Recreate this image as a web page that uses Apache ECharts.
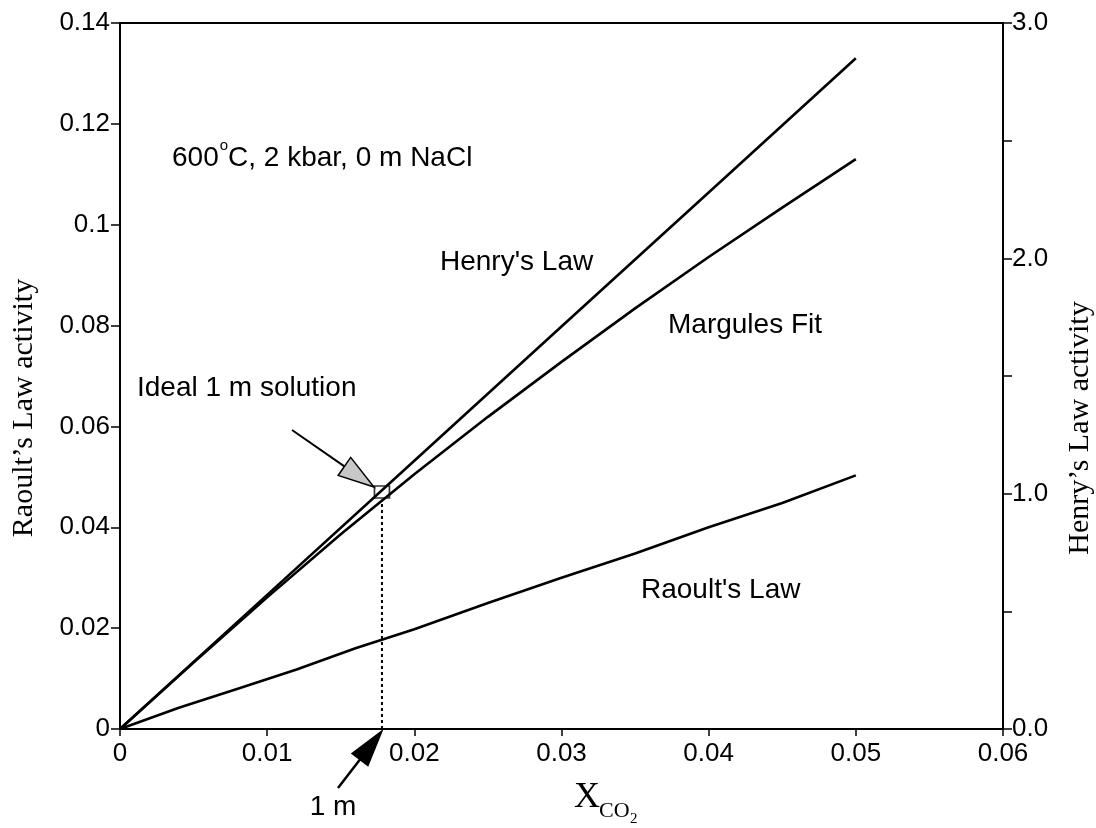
<!DOCTYPE html>
<html><head><meta charset="utf-8">
<script src="https://cdn.jsdelivr.net/npm/echarts@6/dist/echarts.min.js"></script>
<style>html,body{margin:0;padding:0;background:#fff}#c{width:1096px;height:828px}</style>
</head><body><div id="c"></div>
<script>
// ---- data ----
const xTicks = [0, 0.01, 0.02, 0.03, 0.04, 0.05, 0.06];
const henryX = [0, 0.01, 0.02, 0.03, 0.04, 0.05];
const henryY = [0, 0.0266, 0.0532, 0.0798, 0.1064, 0.1330];
const margulesX = [0, 0.005, 0.01, 0.015, 0.02, 0.025, 0.03, 0.035, 0.04, 0.045, 0.05];
const margulesY = [0, 0.0132, 0.0261, 0.0386, 0.0505, 0.0619, 0.0728, 0.0834, 0.0936, 0.1034, 0.1130];
const raoultX = [0, 0.004, 0.008, 0.012, 0.016, 0.02, 0.025, 0.03, 0.035, 0.04, 0.045, 0.05];
const raoultY = [0, 0.0042, 0.0080, 0.0118, 0.0160, 0.0198, 0.0250, 0.0300, 0.0348, 0.0400, 0.0448, 0.0503];
const idealPoint = [0.0178, 0.0470];
const dottedX = [0.0178, 0.0178];
const dottedY = [0, 0.0452];
const leftRange = [0, 0.14];
const rightRange = [0, 3.0];

const zip = (a, b) => a.map((v, i) => [v, b[i]]);
const SANS = '"Liberation Sans", Arial, Helvetica, sans-serif';
const SERIF = '"Liberation Serif", "Times New Roman", serif';
const chart = echarts.init(document.getElementById('c'), null, {renderer: 'canvas'});
const lineStyle = {color: '#000', width: 2.6};
const TICKFONT = 26;

const option = {
  animation: false,
  backgroundColor: '#fff',
  grid: {left: 120, right: 93, top: 23, bottom: 99, show: true, borderColor: '#000', borderWidth: 2, backgroundColor: 'transparent'},
  xAxis: {
    type: 'value', min: 0, max: 0.06, interval: 0.01,
    axisLine: {show: true, lineStyle: {color: '#000', width: 2}},
    axisTick: {show: true, length: 7, lineStyle: {color: '#000', width: 1.5}},
    axisLabel: {color: '#000', fontFamily: SANS, fontSize: TICKFONT, margin: 12,
      formatter: v => v === 0 ? '0' : v.toFixed(2)},
    splitLine: {show: false}
  },
  yAxis: [{
    type: 'value', min: leftRange[0], max: leftRange[1], interval: 0.02,
    axisLine: {show: true, lineStyle: {color: '#000', width: 2}},
    axisTick: {show: true, length: 9, lineStyle: {color: '#000', width: 1.5}},
    axisLabel: {color: '#000', fontFamily: SANS, fontSize: TICKFONT, margin: 10,
      formatter: v => v === 0 ? '0' : String(parseFloat(v.toFixed(2)))},
    splitLine: {show: false}
  }, {
    type: 'value', position: 'right', min: rightRange[0], max: rightRange[1], interval: 0.5,
    axisLine: {show: true, lineStyle: {color: '#000', width: 2}},
    axisTick: {show: true, length: 9, lineStyle: {color: '#000', width: 1.5}},
    axisLabel: {color: '#000', fontFamily: SANS, fontSize: TICKFONT, margin: 9,
      formatter: v => (Math.abs(v - Math.round(v)) < 1e-9) ? v.toFixed(1) : ''},
    splitLine: {show: false}
  }],
  series: [
    {name: "Henry's Law", type: 'line', data: zip(henryX, henryY), showSymbol: false, symbol: 'none', lineStyle, z: 3},
    {name: 'Margules Fit', type: 'line', data: zip(margulesX, margulesY), showSymbol: false, symbol: 'none', lineStyle, z: 3},
    {name: "Raoult's Law", type: 'line', data: zip(raoultX, raoultY), showSymbol: false, symbol: 'none', lineStyle, z: 3},
    {name: '1 m', type: 'line', data: zip(dottedX, dottedY), showSymbol: false, symbol: 'none',
      lineStyle: {color: '#000', width: 2, type: [3, 3]}, z: 2},
    {name: 'Ideal 1 m solution', type: 'scatter', data: [idealPoint], symbol: 'rect', symbolSize: [15, 12],
      itemStyle: {color: 'rgba(255,255,255,0)', borderColor: '#000', borderWidth: 1.5}, z: 4}
  ]
};
chart.setOption(option);

function arrow(tail, tip, len, halfW, fill, lw) {
  const dx = tip[0] - tail[0], dy = tip[1] - tail[1];
  const d = Math.hypot(dx, dy), ux = dx / d, uy = dy / d;
  const bx = tip[0] - ux * len, by = tip[1] - uy * len;
  const px = -uy * halfW, py = ux * halfW;
  return [
    {type: 'line', shape: {x1: tail[0], y1: tail[1], x2: bx, y2: by}, style: {stroke: '#000', lineWidth: lw}, z: 10},
    {type: 'polygon', shape: {points: [[tip[0], tip[1]], [bx + px, by + py], [bx - px, by - py]]},
      style: {fill: fill, stroke: '#000', lineWidth: 1.5}, z: 10}
  ];
}
const ctx = document.createElement('canvas').getContext('2d');
function w(t, font) { ctx.font = font; return ctx.measureText(t).width; }

const boxPx = chart.convertToPixel({gridIndex: 0}, idealPoint);
const axisPx = chart.convertToPixel({gridIndex: 0}, [dottedX[0], 0]);
const g = [];
function txt(t, x, y, font, align, rot) {
  g.push({type: 'text', x: x, y: y, rotation: rot || 0, z: 20,
    style: {text: t, font: font, fill: '#000', align: align || 'left', verticalAlign: 'middle',
      textAlign: align || 'left', textVerticalAlign: 'middle'}});
}
const LBL = 'normal 28px ' + SANS;
// "600°C, 2 kbar, 0 m NaCl" with superscript o
let cx = 172;
txt('600', cx, 158, LBL); cx += w('600', LBL) + 1;
txt('o', cx, 146, 'normal 15px ' + SANS); cx += w('o', 'normal 15px ' + SANS);
txt('C, 2 kbar, 0 m NaCl', cx, 158, LBL);
txt("Henry's Law", 440, 262, LBL);
txt('Margules Fit', 668, 325, LBL);
txt("Raoult's Law", 641, 590, LBL);
txt('Ideal 1 m solution', 137, 388, LBL);
txt('1 m', 333, 807, LBL, 'center');
txt('X', 574, 798, 'normal 36px ' + SERIF);
txt('CO', 599, 811, 'normal 22px ' + SERIF);
txt('2', 630, 819, 'normal 15px ' + SERIF);
txt("Raoult’s Law activity", 24, 408, 'normal 30px ' + SERIF, 'center', Math.PI / 2);
txt("Henry’s Law activity", 1080, 428, 'normal 30px ' + SERIF, 'center', Math.PI / 2);

arrow([292, 430], [boxPx[0] - 8, boxPx[1] - 5], 36, 11, '#c8c8c8', 2).forEach(e => g.push(e));
arrow([338, 788], [axisPx[0], axisPx[1] + 2], 36, 10, '#000', 2.5).forEach(e => g.push(e));
chart.setOption({graphic: {elements: g}});
</script></body></html>
